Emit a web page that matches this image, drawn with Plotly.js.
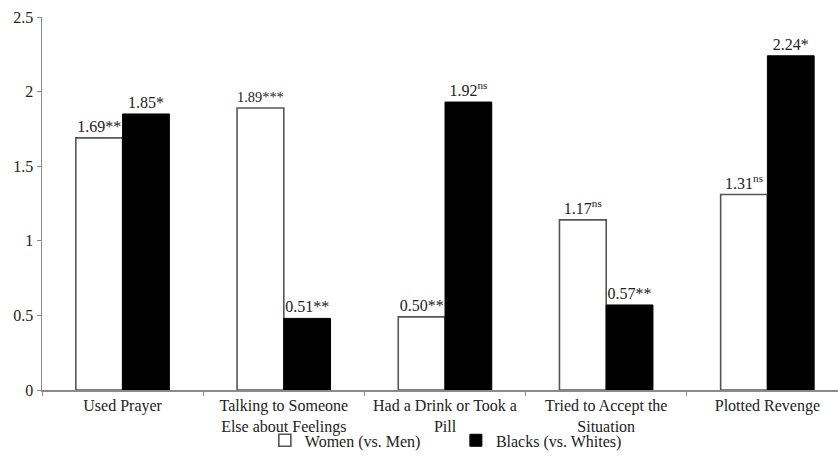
<!DOCTYPE html>
<html>
<head>
<meta charset="utf-8">
<script src="https://cdn.plot.ly/plotly-3.0.1.min.js"></script>
<style>
html, body { margin: 0; padding: 0; overflow: hidden; background: #fff; }
#chart { width: 860px; height: 462px; }
</style>
</head>
<body>
<div id="chart"></div>
<script>
var categories = [
  "Used Prayer",
  "Talking to Someone<br>Else about Feelings",
  "Had a Drink or Took a<br>Pill",
  "Tried to Accept the<br>Situation",
  "Plotted Revenge"
];
var womenValues = [1.69, 1.89, 0.49, 1.14, 1.31];
var blacksValues = [1.85, 0.48, 1.93, 0.57, 2.24];
var womenLabels = ["1.69**", "1.89***", "0.50**", "1.17<sup>ns</sup>", "1.31<sup>ns</sup>"];
var blacksLabels = ["1.85*", "0.51**", "1.92<sup>ns</sup>", "0.57**", "2.24*"];
var yTicks = [0, 0.5, 1, 1.5, 2, 2.5];
var yTickLabels = ["0", "0.5", "1", "1.5", "2", "2.5"];

var serif = "Liberation Serif";

var traces = [
  {
    type: "bar",
    name: "Women (vs. Men)",
    legend: "legend",
    x: categories,
    y: womenValues,
    text: womenLabels,
    textposition: "outside",
    cliponaxis: false,
    textfont: { family: serif, size: 16, color: "#222" },
    marker: { color: "#ffffff", line: { color: "#555555", width: 1.6 } },
    hoverinfo: "none"
  },
  {
    type: "bar",
    name: "Blacks (vs. Whites)",
    legend: "legend2",
    x: categories,
    y: blacksValues,
    text: blacksLabels,
    textposition: "outside",
    cliponaxis: false,
    textfont: { family: serif, size: 16, color: "#222" },
    marker: { color: "#000000", line: { color: "#000000", width: 1 } },
    hoverinfo: "none"
  }
];

var legendCommon = {
  orientation: "h",
  xanchor: "left",
  y: -0.135,
  yanchor: "middle",
  bgcolor: "rgba(0,0,0,0)",
  font: { family: serif, size: 16, color: "#222" },
  itemwidth: 30
};

var layout = {
  width: 860,
  height: 462,
  margin: { l: 42, r: 12, t: 17, b: 72, autoexpand: false },
  paper_bgcolor: "#ffffff",
  plot_bgcolor: "#ffffff",
  font: { family: serif, size: 16, color: "#222" },
  barmode: "group",
  bargap: 0.42,
  bargroupgap: 0,
  showlegend: true,
  legend: Object.assign({}, legendCommon, { x: 0.2765 }),
  legend2: Object.assign({}, legendCommon, { x: 0.5135 }),
  xaxis: {
    type: "category",
    showline: true,
    linecolor: "#8a8a8a",
    linewidth: 1.5,
    ticks: "outside",
    tickson: "boundaries",
    ticklen: 4,
    tickcolor: "#8a8a8a",
    showgrid: false,
    zeroline: false,
    automargin: false,
    tickfont: { family: serif, size: 16, color: "#222" },
    range: [-0.5, 4.5]
  },
  yaxis: {
    range: [0, 2.5],
    tickvals: yTicks,
    ticktext: yTickLabels,
    showline: true,
    linecolor: "#8a8a8a",
    linewidth: 1.5,
    ticks: "outside",
    ticklen: 4,
    tickcolor: "#8a8a8a",
    showgrid: false,
    zeroline: false,
    automargin: false,
    tickfont: { family: serif, size: 16, color: "#222" }
  }
};

Plotly.newPlot("chart", traces, layout, { staticPlot: true, displayModeBar: false });
</script>
</body>
</html>
